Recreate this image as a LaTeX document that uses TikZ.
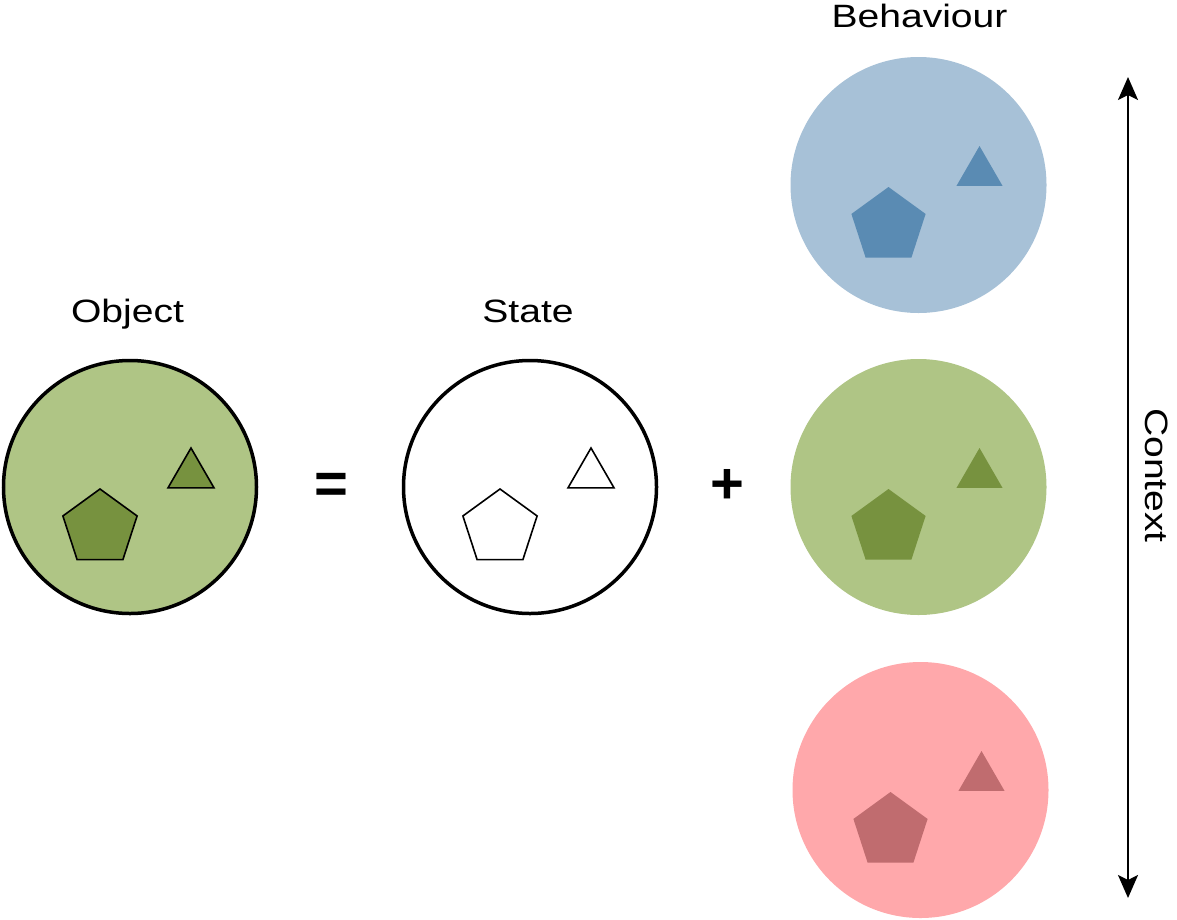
\documentclass[tikz,border=0pt]{standalone}
\usepackage{fontspec}
\setmainfont{Liberation Sans}
\usetikzlibrary{shapes.geometric,arrows.meta}
\definecolor{gLight}{HTML}{AFC585}
\definecolor{gDark}{HTML}{77923F}
\definecolor{bLight}{HTML}{A7C1D7}
\definecolor{bDark}{HTML}{5A8BB3}
\definecolor{pLight}{HTML}{FFA8AB}
\definecolor{pDark}{HTML}{C06C6F}
\newcommand\lbltxt[1]{\scalebox{1.21}[1]{\fontsize{32.3}{38}\selectfont #1}}
\tikzset{ctxtip/.tip={Stealth[length=23pt,width=20pt,inset=5pt]}}
\begin{document}
\begin{tikzpicture}[x=1pt,y=-1pt,
  bigcirc/.style={circle,minimum size=256pt,inner sep=0pt,outer sep=0pt},
  pent/.style={regular polygon,regular polygon sides=5,minimum size=78pt,inner sep=0pt,outer sep=0pt},
  tri/.style={regular polygon,regular polygon sides=3,minimum size=53.2pt,inner sep=0pt,outer sep=0pt},
  lbl/.style={anchor=base,inner sep=0pt,font=\fontsize{32.3}{38}\selectfont},
  opsym/.style={anchor=base,inner sep=0pt,font=\fontsize{58}{60}\selectfont\bfseries}
]
\useasboundingbox (0,0) rectangle (1177,919);

% Object
\node[bigcirc,fill=gLight,draw=black,line width=3.5pt,minimum size=253pt] (obj) at (130,487) {};
\node[pent,fill=gDark,draw=black,line width=1.6pt] (objp) at (100,528) {};
\node[tri,fill=gDark,draw=black,line width=1.6pt] (objt) at (191,474.6) {};
\node[lbl] (objl) at (127.5,322.5) {\lbltxt{Object}};

% equals
\node[opsym] (eq) at (331.5,503) {=};

% State
\node[bigcirc,fill=white,draw=black,line width=3.5pt,minimum size=253pt] (st) at (530,487) {};
\node[pent,fill=white,draw=black,line width=1.6pt] (stp) at (500,528) {};
\node[tri,fill=white,draw=black,line width=1.6pt] (stt) at (591,474.6) {};
\node[lbl] (stl) at (528,322.5) {\lbltxt{State}};

% plus
\node[opsym] (pl) at (727,503) {+};

% Behaviours
\node[bigcirc,fill=bLight] (b1) at (918.5,185) {};
\node[pent,fill=bDark] (b1p) at (888.5,226) {};
\node[tri,fill=bDark] (b1t) at (979.5,172.6) {};

\node[bigcirc,fill=gLight] (b2) at (918.5,487) {};
\node[pent,fill=gDark] (b2p) at (888.5,528) {};
\node[tri,fill=gDark] (b2t) at (979.5,474.6) {};

\node[bigcirc,fill=pLight] (b3) at (920.5,790) {};
\node[pent,fill=pDark] (b3p) at (890.5,831) {};
\node[tri,fill=pDark] (b3t) at (981.5,777.6) {};

\node[lbl] (bl) at (919.5,27.5) {\lbltxt{Behaviour}};

% Context arrow
\coordinate (ctop) at (1128,77);
\coordinate (cbot) at (1128,898);
\draw[line width=2pt,ctxtip-ctxtip] (ctop) -- (cbot);
\node[lbl,rotate=-90] (cl) at (1145.5,475.5) {\lbltxt{Context}};
\end{tikzpicture}
\end{document}
